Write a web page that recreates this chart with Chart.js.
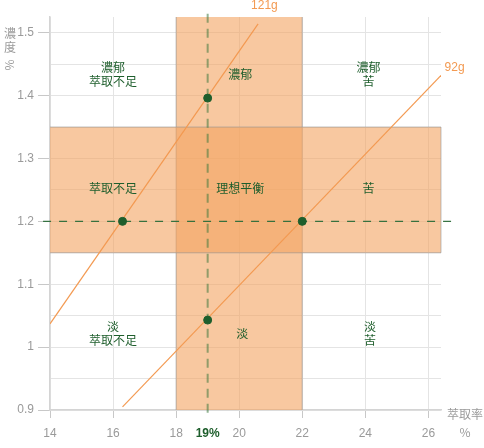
<!DOCTYPE html>
<html>
<head>
<meta charset="utf-8">
<script src="https://cdn.jsdelivr.net/npm/chart.js@4"></script>
<style>
  html, body { margin: 0; padding: 0; background: #fff; }
  #wrap { width: 484px; height: 448px; }
</style>
</head>
<body>
<div id="wrap"><canvas id="brewChart"></canvas></div>
<script>
// extraction (%) on x, strength (%) on y
const extractionRange = [18, 22];
const strengthRange = [1.15, 1.35];
const targetExtraction = 19;
const targetStrength = 1.2;
const xLimits = [14, 26.4];
const yLimits = [0.9, 1.525];
const xTickValues = [14, 16, 18, 19, 20, 22, 24, 26];

const line121 = [{ x: 14, y: 1.037 }, { x: 20.6, y: 1.514 }];
const line92 = [{ x: 16.3, y: 0.905 }, { x: 26.4, y: 1.432 }];
const crossPoints = [
  { x: 16.3, y: 1.2 },
  { x: 22, y: 1.2 },
  { x: 19, y: 1.396 },
  { x: 19, y: 1.043 }
];

const lineLabels = [
  { text: "121g", x: 20.8, y: 1.543 },
  { text: "92g", x: 26.83, y: 1.444 }
];

const regionLabels = [
  { lines: ["濃郁", "萃取不足"], x: 16, y: 1.433 },
  { lines: ["濃郁"], x: 20.03, y: 1.433 },
  { lines: ["濃郁", "苦"], x: 24.1, y: 1.433 },
  { lines: ["萃取不足"], x: 16, y: 1.252 },
  { lines: ["理想平衡"], x: 20.03, y: 1.252 },
  { lines: ["苦"], x: 24.1, y: 1.252 },
  { lines: ["淡", "萃取不足"], x: 16, y: 1.021 },
  { lines: ["淡"], x: 20.1, y: 1.021 },
  { lines: ["淡", "苦"], x: 24.15, y: 1.021 }
];

const GREEN = "#1e5e2c";
const ORANGE = "#f39a52";
const GRAY_TEXT = "#9a9a9a";
const CJK = '"Noto Sans CJK TC", "Noto Sans CJK SC", sans-serif';

function isTenth(v) {
  return Math.abs(v * 10 - Math.round(v * 10)) < 1e-6;
}
function isHalfTenth(v) {
  return Math.abs(v * 20 - Math.round(v * 20)) < 1e-6;
}

function line(ctx, x0, y0, x1, y1) {
  ctx.beginPath();
  ctx.moveTo(x0, y0);
  ctx.lineTo(x1, y1);
  ctx.stroke();
}

const bandsPlugin = {
  id: "bands",
  beforeDatasetsDraw(chart) {
    const { ctx, chartArea, scales } = chart;
    const x = scales.x, y = scales.y;
    ctx.save();
    ctx.fillStyle = "rgba(244,164,96,0.6)";
    ctx.strokeStyle = "rgba(150,150,150,0.4)";
    ctx.lineWidth = 1.5;

    const vx0 = x.getPixelForValue(extractionRange[0]);
    const vx1 = x.getPixelForValue(extractionRange[1]);
    ctx.fillRect(vx0, chartArea.top, vx1 - vx0, chartArea.bottom - chartArea.top);
    line(ctx, vx0, chartArea.top, vx0, chartArea.bottom);
    line(ctx, vx1, chartArea.top, vx1, chartArea.bottom);

    const hy0 = y.getPixelForValue(strengthRange[1]);
    const hy1 = y.getPixelForValue(strengthRange[0]);
    ctx.fillRect(chartArea.left, hy0, chartArea.right - chartArea.left, hy1 - hy0);
    line(ctx, chartArea.left, hy0, chartArea.right, hy0);
    line(ctx, chartArea.left, hy1, chartArea.right, hy1);
    line(ctx, chartArea.right, hy0, chartArea.right, hy1);
    ctx.restore();
  },
  afterDatasetsDraw(chart) {
    const { ctx, scales } = chart;
    const x = scales.x, y = scales.y;
    ctx.save();
    ctx.textAlign = "center";
    ctx.textBaseline = "middle";

    ctx.fillStyle = GREEN;
    ctx.font = "12px " + CJK;
    for (const r of regionLabels) {
      const px = x.getPixelForValue(r.x);
      const py = y.getPixelForValue(r.y);
      const start = py - (r.lines.length - 1) * 7;
      r.lines.forEach((t, i) => ctx.fillText(t, px, start + i * 14));
    }

    ctx.fillStyle = ORANGE;
    ctx.font = '12px "Liberation Sans", Arial, sans-serif';
    for (const l of lineLabels) {
      ctx.fillText(l.text, x.getPixelForValue(l.x), y.getPixelForValue(l.y));
    }

    // axis titles
    ctx.fillStyle = GRAY_TEXT;
    ctx.font = "12px " + CJK;
    ctx.fillText("萃取率", 465, 414);
    ctx.fillText("%", 465, 432);
    ctx.fillText("濃", 10, 33);
    ctx.fillText("度", 10, 47);
    ctx.translate(10, 65);
    ctx.rotate(Math.PI / 2);
    ctx.fillText("%", 0, 0);
    ctx.restore();
  }
};

const ctx = document.getElementById("brewChart");
const chart = new Chart(ctx, {
  type: "scatter",
  data: {
    datasets: [
      {
        data: crossPoints,
        backgroundColor: GREEN,
        borderColor: GREEN,
        pointRadius: 4,
        order: 0
      },
      {
        data: line121,
        showLine: true,
        borderColor: ORANGE,
        borderWidth: 1.2,
        pointRadius: 0,
        order: 1
      },
      {
        data: line92,
        showLine: true,
        borderColor: ORANGE,
        borderWidth: 1.2,
        pointRadius: 0,
        order: 1
      },
      {
        data: [{ x: 13.78, y: targetStrength }, { x: 26.75, y: targetStrength }],
        showLine: true,
        borderColor: "#2f6e3c",
        borderWidth: 1.2,
        borderDash: [8, 8],
        pointRadius: 0,
        clip: false,
        order: 2
      },
      {
        data: [{ x: targetExtraction, y: 1.53 }, { x: targetExtraction, y: 0.886 }],
        showLine: true,
        borderColor: "rgba(60,120,60,0.55)",
        borderWidth: 2,
        borderDash: [9, 6],
        pointRadius: 0,
        clip: false,
        order: 2
      }
    ]
  },
  options: {
    responsive: true,
    maintainAspectRatio: false,
    animation: false,
    layout: { padding: { top: 17, right: 43, left: 0, bottom: 0 } },
    plugins: {
      legend: { display: false },
      tooltip: { enabled: false }
    },
    scales: {
      x: {
        type: "linear",
        min: xLimits[0],
        max: xLimits[1],
        afterFit(scale) { scale.height = 38; },
        afterBuildTicks(scale) {
          scale.ticks = xTickValues.map((v) => ({ value: v }));
        },
        border: { color: "#d4d4d4", width: 1.5 },
        grid: {
          tickLength: 8,
          color: (c) => (c.tick && c.tick.value === targetExtraction ? "rgba(0,0,0,0)" : "#e4e4e4"),
          tickColor: (c) => (c.tick && c.tick.value === targetExtraction ? "rgba(0,0,0,0)" : "#c8c8c8")
        },
        ticks: {
          padding: 8,
          autoSkip: false,
          maxRotation: 0,
          callback: (v) => (v === targetExtraction ? v + "%" : String(v)),
          color: (c) => (c.tick && c.tick.value === targetExtraction ? GREEN : GRAY_TEXT),
          font: (c) => ({
            family: '"Liberation Sans", Arial, sans-serif',
            size: 12,
            weight: c.tick && c.tick.value === targetExtraction ? "bold" : "normal"
          })
        }
      },
      y: {
        type: "linear",
        min: yLimits[0],
        max: yLimits[1],
        afterFit(scale) { scale.width = 50; },
        border: { color: "#d4d4d4", width: 1.5 },
        grid: {
          tickLength: 12,
          color: (c) => (c.tick && isHalfTenth(c.tick.value) ? "#e4e4e4" : "rgba(0,0,0,0)"),
          tickColor: (c) => (c.tick && isTenth(c.tick.value) ? "#c8c8c8" : "rgba(0,0,0,0)")
        },
        ticks: {
          stepSize: 0.05,
          padding: 4,
          autoSkip: false,
          color: GRAY_TEXT,
          font: { family: '"Liberation Sans", Arial, sans-serif', size: 12 },
          callback: (v) => (isTenth(v) ? String(Math.round(v * 10) / 10) : "")
        }
      }
    }
  },
  plugins: [bandsPlugin]
});
</script>
</body>
</html>
